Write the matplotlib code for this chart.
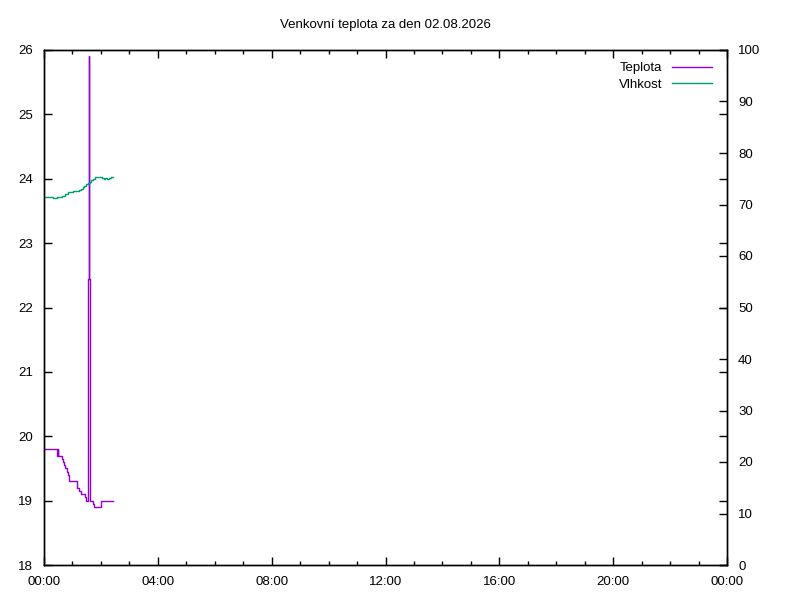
import matplotlib
matplotlib.use("Agg")
import matplotlib.pyplot as plt
from matplotlib.ticker import MultipleLocator, FuncFormatter

plt.rcParams["font.family"] = ["Liberation Sans", "DejaVu Sans"]
plt.rcParams["font.size"] = 9.5

title = "Venkovní teplota za den 02.08.2026"

# minutes since midnight, value (changes only)
temp_min = [0, 28, 29, 30, 39, 41, 42, 44, 49, 50, 52, 69, 70, 73, 77, 87, 89,
            93.4, 95.5, 95.6, 97.6, 103, 105, 120, 145]
temp_val = [19.8, 19.7, 19.8, 19.7, 19.65, 19.6, 19.55, 19.5, 19.45, 19.4, 19.3,
            19.25, 19.2, 19.15, 19.1, 19.05, 19.0,
            22.45, 25.9, 22.45, 19.0, 18.95, 18.9, 19.0, 19.0]

hum_min = [0, 18, 27, 38, 44, 51, 62, 68, 74, 78, 82, 85, 89, 93, 97, 100, 104,
           108, 123, 126, 129, 132, 138, 141, 145]
hum_val = [71.4, 71.25, 71.4, 71.7, 72.0, 72.4, 72.6, 72.7, 72.9, 73.1, 73.4,
           73.65, 73.9, 74.1, 74.3, 74.7, 75.0, 75.3, 75.1, 74.9, 75.1, 74.9,
           75.2, 75.4, 75.3]

temp_color = "#9400d3"
hum_color = "#009e73"

fig = plt.figure(figsize=(8, 6), dpi=100)
ax = fig.add_axes([44 / 800, 35 / 600, 683 / 800, 515 / 600])
ax2 = ax.twinx()

l1, = ax.plot([m / 60 for m in temp_min], temp_val, color=temp_color, lw=1,
              drawstyle="steps-post", label="Teplota")
l2, = ax2.plot([m / 60 for m in hum_min], hum_val, color=hum_color, lw=1,
               drawstyle="steps-post", label="Vlhkost")

ax.set_xlim(0, 24)
ax.set_ylim(18, 26)
ax2.set_ylim(0, 100)

ax.xaxis.set_major_locator(MultipleLocator(4))
ax.xaxis.set_minor_locator(MultipleLocator(1))
ax.xaxis.set_major_formatter(FuncFormatter(lambda v, p: "%02d:00" % (int(round(v)) % 24)))
ax.yaxis.set_major_locator(MultipleLocator(1))
ax2.yaxis.set_major_locator(MultipleLocator(10))

ax.tick_params(axis="x", which="both", direction="in", top=True, bottom=True, pad=8)
ax.tick_params(axis="x", which="major", length=6, width=1)
ax.tick_params(axis="x", which="minor", length=3, width=1)
ax.tick_params(axis="y", direction="in", left=True, right=True, length=6, width=1, pad=8)
ax2.tick_params(axis="y", direction="in", right=True, left=False, length=6, width=1, pad=8)

for a in (ax, ax2):
    for s in a.spines.values():
        s.set_linewidth(1)
        s.set_color("black")

fig.text(385 / 800, 1 - 25 / 600, title, ha="center", va="center", fontsize=9.5)

leg = ax2.legend([l1, l2], ["Teplota", "Vlhkost"], loc="upper right",
                 bbox_to_anchor=(1.0, 1.0 + 3 / 515),
                 frameon=False, markerfirst=False, handlelength=3.0,
                 borderaxespad=0.75, labelspacing=0.32, handletextpad=0.75)

fig.savefig("out.png", dpi=100)
